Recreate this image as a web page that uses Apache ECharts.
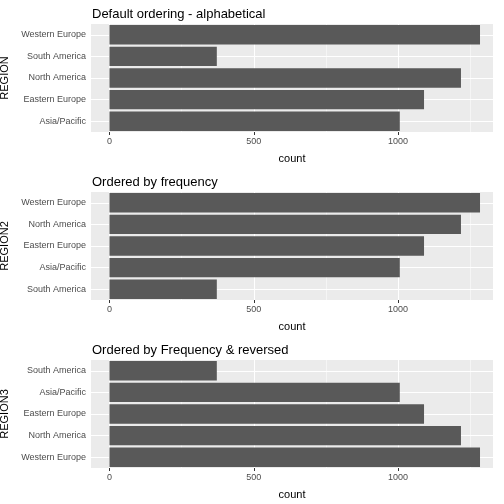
<!DOCTYPE html>
<html>
<head>
<meta charset="utf-8">
<script src="https://cdn.jsdelivr.net/npm/echarts@6/dist/echarts.min.js"></script>
<style>html,body{margin:0;padding:0;background:#fff}#chart{width:504px;height:504px}</style>
</head>
<body>
<div id="chart"></div>
<script>
// data
const regions = ['Asia/Pacific', 'Eastern Europe', 'North America', 'South America', 'Western Europe']
const counts = [1006, 1090, 1218, 372, 1284]
const titles = ['Default ordering - alphabetical', 'Ordered by frequency', 'Ordered by Frequency & reversed']
const axisNames = ['REGION', 'REGION2', 'REGION3']
const majorTicks = [0, 500, 1000]
const minorTicks = [250, 750, 1250]

// category order, bottom to top as echarts draws it
const byFreq = regions.map((r, i) => [r, counts[i]]).sort((a, b) => a[1] - b[1])
const orders = [
    regions.map((r, i) => [r, counts[i]]),
    byFreq,
    byFreq.slice().reverse()
]

const font = 'Liberation Sans, Arial, sans-serif'
const tops = [24, 192, 360]
const opt = { animation: false, title: [], grid: [], xAxis: [], yAxis: [], series: [] }

orders.forEach((ord, k) => {
    const cats = ord.map(d => d[0])
    opt.title.push({
        text: titles[k], left: 87, top: tops[k] - 21,
        textStyle: { fontFamily: font, fontSize: 13, fontWeight: 'normal', color: '#000' }
    })
    opt.grid.push({
        left: 91, right: 11, top: tops[k], height: 108, backgroundColor: '#ebebeb',
        show: true, borderWidth: 0, containLabel: false, outerBoundsMode: 'none'
    })
    opt.xAxis.push({
        type: 'value', gridIndex: k, min: -64, max: 1329,
        name: 'count', nameLocation: 'middle', nameGap: 21,
        nameTextStyle: { fontFamily: font, fontSize: 11, color: '#000' },
        axisLine: { show: false },
        splitLine: { show: false },
        axisTick: { show: true, length: 3, lineStyle: { color: '#333' }, customValues: majorTicks },
        axisLabel: { fontFamily: font, fontSize: 9, color: '#4d4d4d', margin: 5, customValues: majorTicks, formatter: v => String(v) }
    })
    opt.yAxis.push({
        type: 'category', gridIndex: k, data: cats,
        name: axisNames[k], nameLocation: 'middle', nameGap: 78, nameRotate: 90,
        nameTextStyle: { fontFamily: font, fontSize: 11, color: '#000' },
        axisLine: { show: false },
        axisTick: { show: true, length: 3, alignWithLabel: true, lineStyle: { color: '#333' } },
        axisLabel: { fontFamily: font, fontSize: 9, color: '#4d4d4d', margin: 5 },
        splitLine: { show: false }
    })
    // grid lines as a background series
    const lines = []
    majorTicks.forEach(v => lines.push({ xAxis: v, lineStyle: { width: 1.1 } }))
    minorTicks.forEach(v => lines.push({ xAxis: v, lineStyle: { width: 0.5 } }))
    cats.forEach(c => lines.push({ yAxis: c, lineStyle: { width: 1.1 } }))
    opt.series.push({
        type: 'line', xAxisIndex: k, yAxisIndex: k, data: [], z: 1, silent: true,
        markLine: {
            silent: true, symbol: 'none', label: { show: false }, animation: false,
            lineStyle: { color: '#fff', type: 'solid' }, data: lines
        }
    })
    opt.series.push({
        type: 'bar', xAxisIndex: k, yAxisIndex: k, z: 5,
        data: ord.map(d => d[1]),
        barCategoryGap: '10%',
        itemStyle: { color: '#595959' }
    })
})

const chart = echarts.init(document.getElementById('chart'))
chart.setOption(opt)
</script>
</body>
</html>
